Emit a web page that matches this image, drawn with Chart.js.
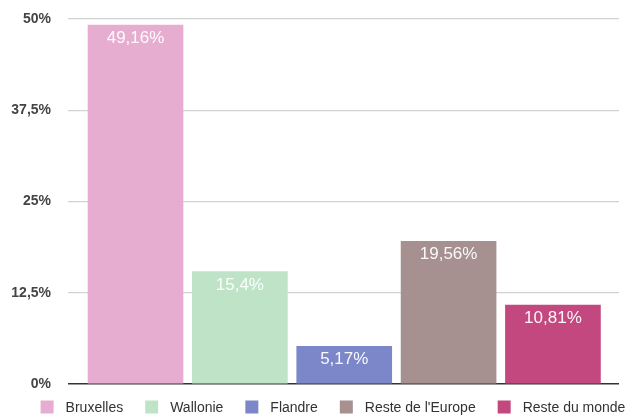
<!DOCTYPE html>
<html>
<head>
<meta charset="utf-8">
<script src="https://cdn.jsdelivr.net/npm/chart.js@4/dist/chart.umd.min.js"></script>
<style>
  html, body { margin: 0; padding: 0; background: #fff; }
  #wrap { width: 632px; height: 416px; }
</style>
</head>
<body>
<div id="wrap"><canvas id="chart"></canvas></div>
<script>
    // Données du graphique
    const categories = ['Bruxelles', 'Wallonie', 'Flandre', "Reste de l'Europe", 'Reste du monde'];
    const values = [49.16, 15.4, 5.17, 19.56, 10.81];
    const barColors = ['#E7ADD0', '#BFE3C7', '#7B87C8', '#A69090', '#C3487F'];
    const yTickValues = [0, 12.5, 25, 37.5, 50];
    const yTickLabels = ['0%', '12,5%', '25%', '37,5%', '50%'];

    const fontFamily = '"Liberation Sans", Arial, Helvetica, sans-serif';

    function formatPct(v) {
        return v.toLocaleString('fr-FR') + '%';
    }

    /**
     * Étiquettes de valeur en blanc dans le haut des barres
     */
    const valueLabels = {
        id: 'valueLabels',
        afterDatasetsDraw(chart) {
            const ctx = chart.ctx;
            ctx.save();
            ctx.font = '17px ' + fontFamily;
            ctx.fillStyle = 'rgba(255,255,255,0.95)';
            ctx.textAlign = 'center';
            ctx.textBaseline = 'alphabetic';
            chart.data.datasets.forEach(function(ds, i) {
                const meta = chart.getDatasetMeta(i);
                meta.data.forEach(function(bar, j) {
                    ctx.fillText(formatPct(ds.data[j].y), bar.x, bar.y + 18);
                });
            });
            ctx.restore();
        }
    };

    /**
     * Légende dessinée à la main (carrés + libellés) sous le graphique
     */
    const bottomLegend = {
        id: 'bottomLegend',
        afterDraw(chart) {
            const ctx = chart.ctx;
            const box = 13, gap = 12, spacing = 22;
            ctx.save();
            ctx.font = '14px ' + fontFamily;
            const widths = chart.data.datasets.map(ds => ctx.measureText(ds.label).width);
            const total = widths.reduce((a, w) => a + box + gap + w, 0) + spacing * (widths.length - 1);
            let x = (chart.width - total) / 2 + 17;
            const cy = chart.chartArea.bottom + 23;
            ctx.textBaseline = 'middle';
            chart.data.datasets.forEach(function(ds, i) {
                ctx.fillStyle = ds.backgroundColor;
                ctx.fillRect(x, cy - box / 2, box, box);
                x += box + gap;
                ctx.fillStyle = '#333';
                ctx.fillText(ds.label, x, cy + 1);
                x += widths[i] + spacing;
            });
            ctx.restore();
        }
    };

    const datasets = categories.map(function(cat, i) {
        return {
            label: cat,
            data: [{ x: i, y: values[i] }],
            backgroundColor: barColors[i],
            barThickness: 95,
            grouped: false
        };
    });

    new Chart(document.getElementById('chart'), {
        type: 'bar',
        data: { datasets: datasets },
        options: {
            responsive: true,
            maintainAspectRatio: false,
            animation: false,
            layout: {
                padding: { top: 19, left: 0, right: 13, bottom: 32 }
            },
            plugins: {
                legend: { display: false },
                tooltip: { enabled: false }
            },
            scales: {
                x: {
                    type: 'linear',
                    display: false,
                    offset: false,
                    min: -0.647,
                    max: 4.633
                },
                y: {
                    min: 0,
                    max: 50,
                    afterFit: function(scale) {
                        scale.width = 68;
                        scale.paddingTop = 0;
                        scale.paddingBottom = 0;
                    },
                    afterBuildTicks: function(scale) {
                        scale.ticks = yTickValues.map(v => ({ value: v }));
                    },
                    border: { display: false },
                    grid: {
                        drawTicks: false,
                        color: ctx => ctx.tick.value === 0 ? '#333' : '#d2d2d2',
                        lineWidth: ctx => ctx.tick.value === 0 ? 1.5 : 1.2
                    },
                    ticks: {
                        padding: 17,
                        color: '#444',
                        font: { family: fontFamily, size: 14, weight: 'bold' },
                        callback: function(value) {
                            const idx = yTickValues.indexOf(value);
                            return idx >= 0 ? yTickLabels[idx] : '';
                        }
                    }
                }
            }
        },
        plugins: [valueLabels, bottomLegend]
    });
</script>
</body>
</html>
